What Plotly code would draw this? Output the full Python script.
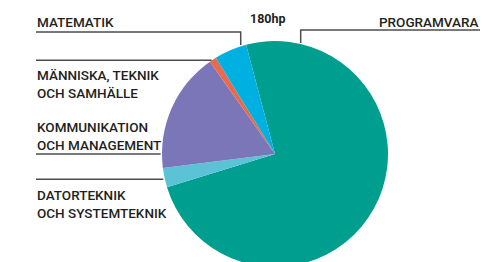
import plotly.graph_objects as go

W, H = 500, 280

categories = ["PROGRAMVARA", "DATORTEKNIK OCH SYSTEMTEKNIK", "KOMMUNIKATION OCH MANAGEMENT",
              "MÄNNISKA, TEKNIK OCH SAMHÄLLE", "MATEMATIK"]
hp_values = [134, 5, 31, 1.8, 8.4]
colors = ["#009E8E", "#5CC3D7", "#7A76B7", "#EA6A4E", "#00B0E0"]
title_text = "180hp"

# pie geometry (pixels)
cx, cy, r = 275, 154, 113

def px(x):
    return x / W

def py(y):
    return 1 - y / H

fig = go.Figure(go.Pie(
    labels=categories, values=hp_values, sort=False, direction="clockwise",
    rotation=-14.8, marker=dict(colors=colors, line=dict(width=0)),
    textinfo="none", hoverinfo="label+value", showlegend=False,
    domain=dict(x=[px(cx - r), px(cx + r)], y=[py(cy + r), py(cy - r)]),
))

label_font = dict(family="Roboto", size=13.5, color="#231F20", weight=500)
ann = []

def add_label(text, x, ytop, anchor="left"):
    ann.append(dict(text=text, x=px(x), y=py(ytop), xref="paper", yref="paper",
                    xanchor=anchor, yanchor="top", align=anchor, showarrow=False,
                    font=label_font))

add_label("MATEMATIK", 35, 12)
add_label("PROGRAMVARA", 481, 12, "right")
add_label("MÄNNISKA, TEKNIK<br>OCH SAMHÄLLE", 35, 65)
add_label("KOMMUNIKATION<br>OCH MANAGEMENT", 35, 116.5)
add_label("DATORTEKNIK<br>OCH SYSTEMTEKNIK", 35, 184.5)
ann.append(dict(text="<b>" + title_text + "</b>", x=px(268), y=py(9), xref="paper", yref="paper",
                xanchor="center", yanchor="top", showarrow=False,
                font=dict(family="Roboto", size=12.5, color="#231F20")))

line_style = dict(color="#4D4D4D", width=1.5)

def path(points):
    d = "M " + " L ".join(f"{px(x)},{py(y)}" for x, y in points)
    return dict(type="path", path=d, xref="paper", yref="paper", line=line_style)

shapes = [
    path([(36, 32), (240.7, 32), (240.7, 45)]),
    path([(480, 30), (300.7, 30), (300.7, 43)]),
    path([(36, 60.3), (211.7, 60.3)]),
    path([(36, 154), (160.7, 154)]),
    path([(36, 179.3), (163.3, 179.3)]),
]

fig.update_layout(width=W, height=H, margin=dict(l=0, r=0, t=0, b=0),
                  paper_bgcolor="white", plot_bgcolor="white",
                  annotations=ann, shapes=shapes)

fig.write_html("out.html", config={"displayModeBar": False},
               post_script="document.body.style.margin='0';document.body.style.overflow='hidden';")
